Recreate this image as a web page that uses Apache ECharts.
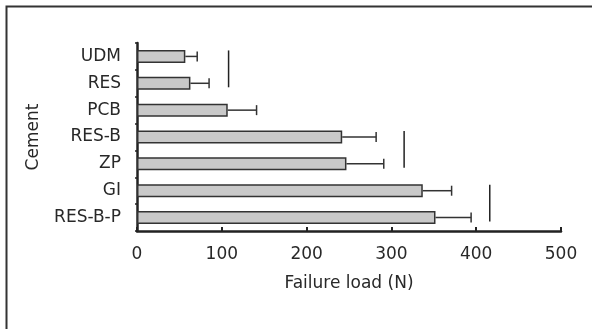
<!DOCTYPE html>
<html><head><meta charset="utf-8">
<script src="https://cdn.jsdelivr.net/npm/echarts@6/dist/echarts.min.js"></script>
<style>html,body{margin:0;padding:0;background:#fff}#c{width:592px;height:329px}</style>
</head><body><div id="c"></div>
<script>
const categories = ['UDM','RES','PCB','RES-B','ZP','GI','RES-B-P'];
const means = [57, 63, 107, 242, 247, 337, 352];
const upperErr = [71, 85, 141, 282, 291, 371, 394];
// vertical group lines: [x value, first category index, last category index]
const groupLines = [[108, 0, 1], [315, 3, 4], [416, 5, 6]];
const xTicks = [0, 100, 200, 300, 400, 500];

const font = 'DejaVu Sans';
const fs = 17;
const chart = echarts.init(document.getElementById('c'), null, {renderer:'canvas'});
chart.setOption({
  animation:false,
  backgroundColor:'#fff',
  graphic:[{type:'rect', shape:{x:6.5,y:6.5,width:800,height:800}, style:{fill:'none',stroke:'#333',lineWidth:2}, silent:true}],
  grid:{left:137, right:31, top:43, bottom:98},
  xAxis:{type:'value', min:0, max:500, interval:100,
    name:'Failure load (N)', nameLocation:'middle', nameGap:44,
    nameTextStyle:{fontFamily:font, fontSize:fs, color:'#282828'},
    axisLine:{show:true, lineStyle:{color:'#222', width:2.5}},
    axisTick:{show:true, inside:true, length:4, lineStyle:{color:'#222', width:2}},
    splitLine:{show:false},
    axisLabel:{fontFamily:font, fontSize:fs, color:'#282828', margin:15,
      formatter:v=>xTicks.includes(v)?String(v):''}},
  yAxis:{type:'category', data:categories, inverse:true,
    name:'Cement', nameLocation:'middle', nameGap:95, nameRotate:90,
    nameTextStyle:{fontFamily:font, fontSize:fs, color:'#282828'},
    axisLine:{show:true, lineStyle:{color:'#222', width:2.5}},
    axisTick:{show:true, length:2, lineStyle:{color:'#222', width:1.5}},
    axisLabel:{fontFamily:font, fontSize:fs, color:'#282828', margin:16}},
  series:[
    {type:'bar', data:means, barWidth:13,
      itemStyle:{color:'#c9c9c9', borderColor:'#333', borderWidth:1.5}},
    {type:'custom', data:means.map((m,i)=>[m, upperErr[i], i]),
      encode:{x:[0,1], y:2},
      renderItem:(params, api)=>{
        const p0 = api.coord([api.value(0), api.value(2)]);
        const p1 = api.coord([api.value(1), api.value(2)]);
        return {type:'group', children:[
          {type:'line', shape:{x1:p0[0], y1:p0[1], x2:p1[0], y2:p1[1]}, style:{stroke:'#333', lineWidth:1.5}},
          {type:'line', shape:{x1:p1[0], y1:p1[1]-5, x2:p1[0], y2:p1[1]+5}, style:{stroke:'#333', lineWidth:1.5}}
        ]};
      }, z:3},
    {type:'custom', data:groupLines,
      encode:{x:0, y:[1,2]},
      renderItem:(params, api)=>{
        const a = api.coord([api.value(0), api.value(1)]);
        const b = api.coord([api.value(0), api.value(2)]);
        return {type:'line', shape:{x1:a[0], y1:a[1]-6, x2:b[0], y2:b[1]+4}, style:{stroke:'#222', lineWidth:1.5}};
      }, z:3}
  ]
});
</script></body></html>
